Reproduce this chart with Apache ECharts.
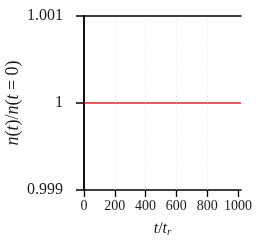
<!DOCTYPE html>
<html><head><meta charset="utf-8">
<script src="https://cdn.jsdelivr.net/npm/echarts@6/dist/echarts.min.js"></script>
<style>html,body{margin:0;padding:0;background:#fff}#c{width:266px;height:245px}</style>
</head><body><div id="c"></div>
<script>
const tValues = [0, 200, 400, 600, 800, 1000, 1020];
const ratioValues = [1, 1, 1, 1, 1, 1, 1];
const xTicks = [0, 200, 400, 600, 800, 1000];
const yTicks = [0.999, 1, 1.001];

const FONT = 'Liberation Serif';
const TXT = '#1a1a1a';
const chart = echarts.init(document.getElementById('c'));
chart.setOption({
  animation: false,
  backgroundColor: '#fff',
  grid: { left: 84, right: 25, top: 16, bottom: 55, containLabel: false, outerBoundsMode: 'none' },
  xAxis: [{
    type: 'value', min: 0, max: 1020,
    axisLine: { show: true, lineStyle: { color: '#000', width: 1.5 } },
    axisTick: { show: true, inside: false, length: 7, customValues: xTicks, lineStyle: { color: '#000', width: 1.3 } },
    axisLabel: { color: TXT, fontFamily: FONT, fontSize: 14, margin: 9, customValues: xTicks, formatter: v => String(v) },
    splitLine: { show: false },
    name: '{i|t}/{i|t}{s|r}', nameLocation: 'middle', nameGap: 30, nameMoveOverlap: false,
    nameTextStyle: { rich: {
      i: { fontFamily: FONT, fontStyle: 'italic', fontSize: 16, color: TXT },
      s: { fontFamily: FONT, fontStyle: 'italic', fontSize: 11, color: TXT, verticalAlign: 'bottom', padding: [7, 0, 0, 0] }
    }, fontFamily: FONT, fontSize: 16, color: TXT }
  }, {
    type: 'value', min: 0, max: 1020, position: 'top',
    axisLine: { show: true, lineStyle: { color: '#000', width: 1.5 } },
    axisTick: { show: false }, axisLabel: { show: false }, splitLine: { show: false }
  }],
  yAxis: [{
    type: 'value', min: 0.999, max: 1.001, splitNumber: 2, position: 'left',
    axisLine: { show: true, lineStyle: { color: '#000', width: 1.5 } },
    axisTick: { show: true, inside: false, length: 8, customValues: yTicks, lineStyle: { color: '#000', width: 1.5 } },
    axisLabel: { color: TXT, fontFamily: FONT, fontSize: 16, margin: 21, customValues: yTicks,
      formatter: v => { const r = Math.round(v * 1000) / 1000; return r === 1 ? '1' : r.toFixed(3); } },
    splitLine: { show: false },
    name: '{i|n}({i|t})/{i|n}({i|t} = 0)', nameLocation: 'middle', nameGap: 62, nameMoveOverlap: false,
    nameTextStyle: { fontFamily: FONT, fontSize: 18, color: TXT, rich: {
      i: { fontFamily: FONT, fontStyle: 'italic', fontSize: 18, color: TXT }
    } }
  }, {
    type: 'value', min: 0.999, max: 1.001, position: 'right',
    axisLine: { show: true, lineStyle: { color: '#000', width: 1.5 } },
    axisTick: { show: false }, axisLabel: { show: false }, splitLine: { show: false }
  }, {
    type: 'value', min: 0.999, max: 1.001, position: 'left', offset: 0,
    axisLine: { show: false },
    axisTick: { show: true, inside: false, length: 7, customValues: yTicks, lineStyle: { color: '#000', width: 1.5 } },
    axisLabel: { show: false }, splitLine: { show: false }
  }],
  series: [{
    type: 'line', xAxisIndex: 0, yAxisIndex: 0,
    data: tValues.map((t, i) => [t, ratioValues[i]]),
    showSymbol: false, lineStyle: { color: '#e0262c', width: 1.5 },
    markLine: {
      silent: true, symbol: 'none', label: { show: false },
      lineStyle: { color: '#dcdcdc', type: [1, 2], width: 0.8 },
      data: xTicks.filter(v => v > 0 && v < 1000).map(v => ({ xAxis: v }))
    }
  }]
});
</script></body></html>
